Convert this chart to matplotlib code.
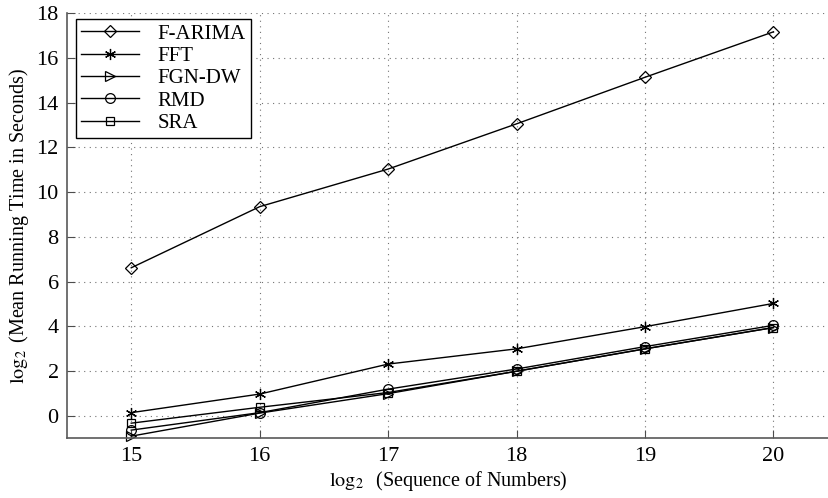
import matplotlib
matplotlib.use('Agg')
import matplotlib.pyplot as plt

# log2 of sequence length
seq_len = [15, 16, 17, 18, 19, 20]

# log2 of mean running time (seconds)
f_arima = [6.62, 9.35, 11.03, 13.05, 15.13, 17.16]
fft = [0.15, 0.98, 2.32, 3.0, 3.99, 5.03]
fgn_dw = [-0.9, 0.13, 1.0, 2.0, 3.0, 3.95]
rmd = [-0.63, 0.15, 1.2, 2.1, 3.1, 4.05]
sra = [-0.32, 0.39, 1.05, 2.0, 3.0, 3.95]

series_names = ['F-ARIMA', 'FFT', 'FGN-DW', 'RMD', 'SRA']
x_ticks = [15, 16, 17, 18, 19, 20]
y_ticks = list(range(0, 19, 2))

plt.rcParams['font.family'] = ['Liberation Serif', 'DejaVu Serif']
plt.rcParams['mathtext.fontset'] = 'stix'

fig = plt.figure(figsize=(8.29, 4.98), dpi=100)
# axes box: left spine at x=67 px, y=-1 at 438 px, y=18 at 13 px; right side runs off the image
ax = fig.add_axes([67 / 829, 59.6 / 498, 763 / 829, 425.4 / 498])

markers = ['D', (6, 2, 0), '>', 'o', 's']
sizes = [6, 8, 6.5, 7, 6]
all_series = [f_arima, fft, fgn_dw, rmd, sra]
for vals, name, mk, ms in zip(all_series, series_names, markers, sizes):
    ax.plot(seq_len, vals, color='black', linewidth=1.0, marker=mk,
            markersize=ms, markerfacecolor='none', markeredgecolor='black',
            markeredgewidth=0.9, label=name, clip_on=False)

ax.set_xlim(14.5, 20.44)
ax.set_ylim(-1, 18)
ax.set_xticks(x_ticks)
ax.set_yticks(y_ticks)
ax.tick_params(direction='in', length=6, labelsize=16, color='0.3', pad=6)
ax.grid(True, linestyle=(0, (1, 4)), color='0.45', linewidth=0.8)
for side in ['top', 'right']:
    ax.spines[side].set_visible(False)
for side in ['left', 'bottom']:
    ax.spines[side].set_color('0.35')
    ax.spines[side].set_linewidth(1.2)

ax.set_xlabel(r'$\log_2$  (Sequence of Numbers)', fontsize=14.5, labelpad=2)
ax.set_ylabel(r'$\log_2$ (Mean Running Time in Seconds)', fontsize=14.5, labelpad=4)

leg = ax.legend(loc='upper left', bbox_to_anchor=(0.0114, 0.986),
                fontsize=15, frameon=True, fancybox=False, edgecolor='black',
                framealpha=1, borderaxespad=0, handlelength=2.8,
                labelspacing=0.13, handletextpad=0.87, borderpad=0.25)
leg.get_frame().set_linewidth(1.0)

fig.savefig('out.png', dpi=100)
